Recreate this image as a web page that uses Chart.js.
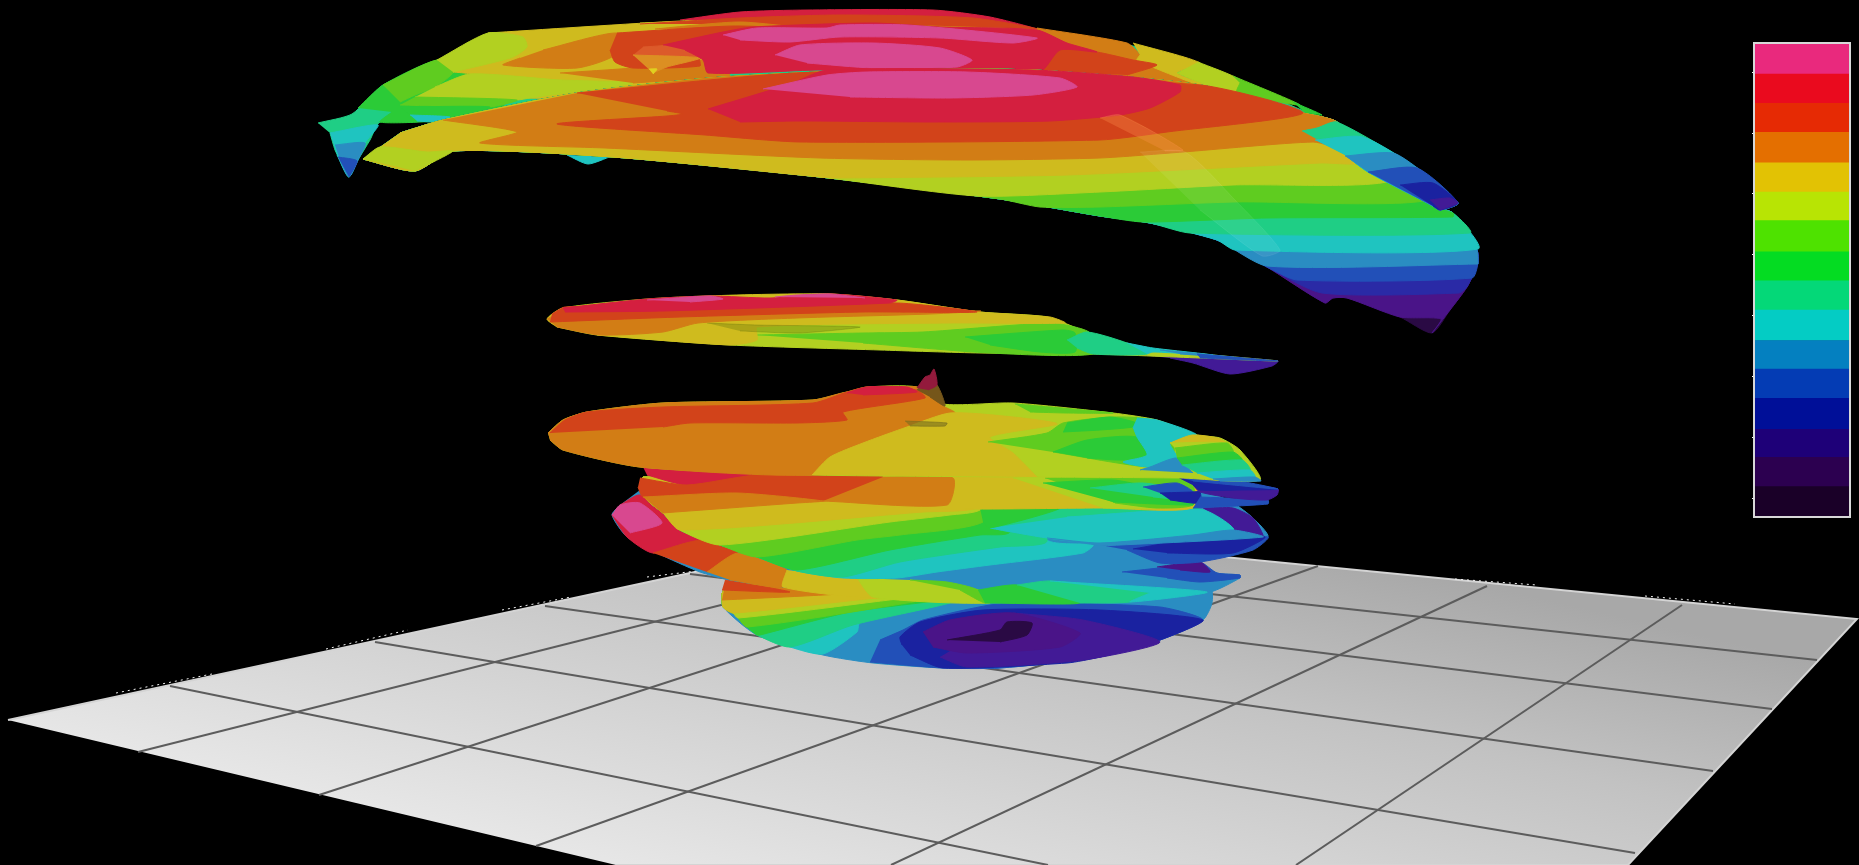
<!DOCTYPE html>
<html>
<head>
<meta charset="utf-8">
<title>Stacked contour surfaces</title>
<script src="https://cdn.jsdelivr.net/npm/chart.js@4"></script>
<style>
  html, body { margin: 0; padding: 0; background: #000; overflow: hidden; }
  #sceneChart { position: absolute; left: 0; top: 0; }
  #colorbarChart { position: absolute; left: 1746px; top: 40px; }
</style>
</head>
<body>
<canvas id="sceneChart" width="1859" height="865"></canvas>
<canvas id="colorbarChart" width="106" height="480"></canvas>
<script>
// colour scale
const colorbarEdges = [-0.31, 0.19, 0.67, 1.13, 1.64, 2.12, 2.59, 3.09, 3.57, 4.05, 4.56, 5.03, 5.51, 6.01, 6.49, 6.97, 7.48];
const colorbarTicks = [0, 1, 2, 3, 4, 5, 6, 7];
const colorbarColors = ["#1a0028", "#2c0050", "#1e0078", "#000f98", "#043cb4", "#0480c0", "#04ccc4", "#04d878", "#04dc22", "#4ee200", "#b8e404", "#e2c204", "#e46f00", "#e62a04", "#ea0a1e", "#e9297d"];

// shaded versions of the scale, as they look on the surfaces
const pink = "#d8488f", red = "#d41f3f", redOrange = "#d2431a", orange = "#d27d15", yellow = "#cfbb1e";
const yelGreen = "#b2d021", ltGreen = "#5fcc20", green = "#2bcb37", teal = "#1fce85", cyan = "#1fc4c0";
const sky = "#2a8dc2", blue = "#2250b8", navy = "#1a22a0", indigo = "#421a96", purple = "#4a1488", dark = "#2a0a44";

// floor
const floorOutline = [[8,720],[908,526],[1857,619],[1628,865],[616,865]];
const gridA1 = [[170,686],[1048,865]];
const gridA2 = [[375,642],[1635,853]];
const gridA3 = [[545,606],[1713,771]];
const gridA4 = [[690,574],[1772,709]];
const gridA5 = [[1100,582],[1817,660]];
const gridB1 = [[138,752],[860,570]];
const gridB2 = [[319,795],[1060,555]];
const gridB3 = [[536,846],[1318,566]];
const gridB4 = [[891,865],[1487,586]];
const gridB5 = [[1296,865],[1682,605]];
const speck1 = [[116,693],[212,674]];
const speck2 = [[326,649],[408,630]];
const speck3 = [[502,610],[571,597]];
const speck4 = [[647,577],[696,571]];
const speck5 = [[1455,579],[1537,585]];
const speck6 = [[1645,596],[1735,604]];

// bottom disc
const s5Lower = [[722,593],[723,607],[733,613],[738,618],[747,627],[757,635],[790,647],[823,655]];
const s5Cap = [[1000,585],[725,585]];
const s5Base = [[722,593],[723,607],[757,635],[823,655],[873,663],[943,668],[1000,668],[1100,657],[1160,640],[1203,620],[1212,603],[1210,588],[730,575]];
const s5Blue = [[870,662],[943,668],[1000,668],[1100,657],[1160,640],[1203,620],[1160,607],[1033,603],[990,605],[923,620],[903,630],[880,640]];
const s5Navy = [[902,645],[900,637],[920,622],[983,610],[1100,610],[1203,620],[1160,640],[1100,657],[1067,663],[943,668],[910,655]];
const s5Indigo = [[1013,613],[1083,620],[1160,642],[1083,660],[967,667],[940,657]];
const s5Purple = [[923,632],[950,620],[1013,613],[1080,633],[1060,647],[967,653],[933,647]];
const s5Dark = [[947,640],[1000,630],[1007,622],[1032,623],[1027,635],[1000,642]];
const s5CyanEdge = [[823,654],[857,632],[860,622],[940,600]];
const s5TealEdge = [[790,647],[853,625],[950,603]];
const s5GreenEdge = [[760,635],[850,612],[940,600]];
const s5LtGreenEdge = [[747,627],[907,603]];
const s5YelGreenEdge = [[738,618],[873,602]];
const s5YellowEdge = [[733,613],[857,600]];
const s5OrangeEdge = [[722,600],[823,595],[900,590]];
const s5RedOrange = [[725,580],[790,592],[722,590]];

// fourth layer
const s4Base = [[640,490],[1200,490],[1233,503],[1253,518],[1268,537],[1233,553],[1200,562],[1217,573],[1240,575],[1240,578],[1210,592],[1100,602],[967,602],[783,587],[730,580],[700,572],[657,553],[627,537],[612,515],[620,505]];
const s4Red = [[620,505],[640,495],[670,520],[702,540],[653,553],[627,537],[612,515]];
const s4Pink = [[612,515],[620,505],[640,503],[662,523],[630,533]];
const s4RedOrange = [[653,553],[702,540],[738,553],[707,572]];
const s4Orange = [[707,572],[738,553],[787,570],[783,587],[730,580]];
const s4Yellow = [[787,570],[783,587],[873,597],[857,578]];
const s4YelGreen = [[857,578],[873,597],[990,603],[978,590],[910,580]];
const s4LtGreen = [[910,580],[947,582],[978,590],[985,603],[960,590]];
const s4Green = [[978,590],[1017,585],[1080,603],[985,603]];
const s4Teal = [[1017,585],[1050,581],[1150,593],[1130,602],[1080,603]];
const s4Cyan = [[1050,581],[1207,592],[1130,602],[1150,593]];
const s4BlueLow = [[1122,572],[1167,567],[1200,562],[1217,573],[1240,575],[1240,578],[1200,582],[1167,578]];
const s4Patch = [[1157,567],[1200,562],[1210,572],[1180,570]];
const s4BlueUp = [[1100,545],[1193,535],[1268,537],[1253,550],[1200,562],[1160,563],[1127,550]];
const s4NavyUp = [[1133,549],[1200,538],[1265,537],[1233,553],[1167,553]];
const s4PurpleUp = [[1203,508],[1233,508],[1253,518],[1263,537],[1233,530],[1217,518]];

// third layer, lower bands
const s3Lower = [[643,477],[642,487],[647,500],[663,513],[680,530],[720,545],[757,557],[797,571],[843,578],[897,578]];
const s3Cap = [[1010,477],[643,477]];
const s3CyanEdge = [[897,578],[937,572],[990,565],[1083,553],[1093,545],[1047,540]];
const s3TealEdge = [[843,577],[900,562],[1000,547],[1047,541]];
const s3GreenEdge = [[797,570],[890,550],[980,535],[1010,532]];
const s3LtGreenEdge = [[757,557],[857,540],[900,535],[983,522]];
const s3YelGreenEdge = [[720,545],[890,522],[950,515],[980,510]];
const s3YellowEdge = [[680,530],[923,512],[977,508]];
const rightTeal = [[990,507],[1170,507],[1203,510],[1233,530],[1047,538],[990,528]];
const rightCyan = [[990,528],[1047,538],[1100,543],[1233,530],[1203,510],[1067,517]];
const rightSky = [[1047,538],[1100,543],[1193,535],[1233,530],[1263,537],[1100,546]];
const rightGreen = [[980,508],[1060,508],[990,528],[983,522]];

// third layer, upper sheet with the flat lower edge
const s3UpBase = [[797,503],[950,509],[1100,508],[1193,508],[1193,477],[883,477]];
const s3UpRed = [[643,467],[757,475],[687,485],[647,475]];
const s3UpRedOrange = [[640,478],[687,485],[757,475],[883,477],[823,501],[737,493],[643,497],[638,487]];
const s3UpOrange = [[883,477],[953,478],[947,505],[823,501]];
const s3UpOrangeLow = [[643,497],[737,493],[823,501],[797,503],[662,513]];
const s3UpYelGreen = [[1013,478],[1045,478],[1115,503],[1157,508],[1103,508]];
const s3UpLtGreen = [[1045,478],[1177,477],[1193,485],[1193,505],[1157,508],[1115,503]];
const s3UpGreen = [[1043,483],[1113,480],[1153,488],[1193,500],[1193,505],[1113,502]];
const s3UpTeal = [[1090,488],[1143,483],[1193,493],[1193,500],[1153,497]];
const s3UpBlue = [[1143,487],[1177,483],[1193,492],[1160,493]];
const s3UpNavy = [[1160,493],[1193,492],[1200,492],[1200,503],[1170,500]];
const s3UpTip = [[1200,497],[1268,500],[1268,504],[1193,508]];

// second layer with the spike
const s2Base = [[548,433],[563,420],[587,412],[663,403],[813,400],[847,392],[867,387],[917,387],[943,404],[1013,403],[1113,413],[1157,420],[1197,435],[1220,438],[1240,450],[1260,480],[1180,478],[810,475],[640,467],[563,450],[550,440]];
const s2Orange = [[548,433],[563,420],[587,412],[663,403],[813,400],[847,392],[917,387],[943,406],[955,413],[907,427],[863,443],[830,457],[812,475],[640,467],[563,450],[550,440]];
const s2Yellow = [[812,475],[830,457],[863,443],[907,427],[950,413],[1013,417],[1057,424],[990,437],[1013,453],[1037,477]];
const s2RedOrange = [[550,433],[565,420],[587,412],[663,407],[813,403],[847,392],[867,387],[917,390],[925,398],[843,412],[847,420],[797,423],[690,423],[663,427]];
const s2Red = [[847,393],[867,387],[907,387],[917,392],[863,395]];
const s2LtTop = [[1015,404],[1113,413],[1067,413],[1030,412]];
const s2LtMid = [[988,442],[1047,433],[1063,423],[1113,417],[1150,420],[1173,443],[1173,457],[1150,467],[1053,452]];
const s2GreenLow = [[1053,452],[1087,440],[1137,437],[1147,455],[1123,460],[1087,458]];
const s2GreenUp = [[1067,423],[1110,417],[1137,423],[1133,427],[1100,430],[1063,432]];
const s2Cyan = [[1137,418],[1157,420],[1197,435],[1170,443],[1177,458],[1150,467],[1123,462],[1147,455],[1137,437],[1133,427]];
const s2Sky = [[1140,470],[1150,467],[1177,458],[1193,473]];
const spikeLow = [[917,390],[925,382],[937,385],[945,406],[930,397]];
const spikeTop = [[917,388],[925,377],[930,375],[934,369],[937,385],[928,390]];
const ridge = [[905,421],[947,423],[945,426],[910,426]];
const lobeYellow = [[1170,443],[1192,435],[1218,438],[1227,443]];
const lobeYelGreen = [[1170,443],[1227,443],[1233,452],[1175,448]];
const lobeLtGreen = [[1175,448],[1227,443],[1233,452],[1177,458]];
const lobeGreen = [[1177,458],[1233,452],[1242,460],[1182,465]];
const lobeTeal = [[1182,465],[1242,460],[1250,470],[1197,473]];
const lobeCyan = [[1197,473],[1250,470],[1255,477],[1213,479]];
const lobeSky = [[1213,479],[1255,477],[1261,481],[1220,481]];
const lensPurple = [[1177,477],[1233,482],[1278,489],[1277,495],[1267,500],[1233,498],[1200,492],[1193,485]];
const lensNavy = [[1177,477],[1233,482],[1278,489],[1240,490],[1200,490],[1193,485]];
const lensBlue = [[1177,477],[1233,480],[1278,489],[1233,485],[1193,481]];

// middle sheet
const midFlap = [[1128,354],[1278,361],[1272,366],[1230,374],[1193,363],[1170,358]];
const midBase = [[547,319],[563,308],[647,299],[710,296],[770,298],[797,295],[830,294],[897,300],[980,312],[1047,317],[1087,332],[1147,348],[1213,355],[1278,361],[1200,358],[1093,354],[980,353],[880,350],[730,345],[597,335],[557,327]];
const midLtGreen = [[757,335],[863,333],[923,332],[1050,323],[1075,327],[1090,333],[1093,354],[990,353],[863,343]];
const midGreen = [[965,337],[1063,330],[1075,333],[1075,352],[1040,352],[990,345]];
const midTeal = [[1067,340],[1087,332],[1127,343],[1147,354],[1093,354],[1077,348]];
const midCyan = [[1127,343],[1153,348],[1213,355],[1153,352],[1147,354]];
const midSky = [[1160,350],[1213,355],[1240,358],[1180,354]];
const midBlue = [[1197,354],[1278,361],[1200,358]];
const midYellow = [[557,327],[547,319],[563,308],[710,296],[830,294],[897,300],[980,312],[1050,317],[1065,323],[950,323],[757,327],[757,340],[730,345],[597,335]];
const midShade = [[707,323],[757,325],[860,327],[800,333],[740,331]];
const midOrange = [[547,319],[563,312],[680,310],[980,311],[930,314],[797,318],[698,323],[663,332],[600,335],[557,327]];
const midRedOrange = [[550,322],[680,317],[863,312],[977,312],[897,303],[663,306],[565,307],[552,314]];
const midRed = [[563,308],[647,299],[710,296],[770,298],[830,294],[897,300],[890,303],[663,311],[565,312]];
const midPink1 = [[647,300],[710,296],[723,299],[690,302]];
const midPink2 = [[775,297],[797,295],[830,294],[865,298]];

// top sheet, back half
const backBase = [[318,123],[352,114],[383,85],[437,62],[495,40],[677,27],[740,18],[807,14],[933,14],[990,20],[1040,32],[1133,46],[1233,80],[1320,118],[1337,122],[1200,150],[800,140],[460,120],[410,122],[380,122],[370,140],[358,160],[349,177],[340,160],[335,150],[330,133]];
const backCyan = [[330,133],[378,125],[365,143],[349,177],[337,155]];
const backSky = [[335,145],[365,143],[358,160],[349,177],[340,160]];
const backBlue = [[338,157],[357,161],[349,177]];
const backGreen = [[358,108],[383,85],[437,60],[500,60],[500,115],[420,122],[380,122],[392,112]];
const backLtGreen = [[383,85],[437,60],[453,72],[435,87],[415,95],[400,102]];
const backYellow = [[488,33],[680,21],[780,18],[780,40],[650,85],[530,98],[470,74],[453,72]];
const backYelGreenUp = [[437,60],[488,33],[523,37],[527,47],[513,57],[483,65],[453,72]];
const backYelGreenIn = [[435,87],[470,74],[560,80],[633,83],[530,98],[517,100],[415,97]];
const backLtGreenIn = [[415,97],[517,100],[490,107],[400,105]];
const backGreenIn = [[400,107],[490,107],[450,118],[410,115]];
const backCyanIn = [[410,115],[450,117],[440,122],[417,121]];
const backOrange = [[543,50],[617,33],[615,55],[577,68],[503,65],[520,58]];
const backOrangeLow = [[560,73],[633,68],[715,60],[730,76],[710,78],[633,83]];
const backStrip = [[640,23],[740,20],[657,28]];
const backRim = [[680,20],[740,12],[807,10],[933,10],[990,17],[1040,30],[973,20],[840,17],[740,20]];
const backRimOrange = [[640,24],[740,18],[840,15],[973,18],[1040,30],[873,24],[830,29],[740,24]];
const backRimGold = [[655,29],[740,22],[830,30],[873,25],[1037,30],[840,33],[720,30]];
const backRedOrange = [[617,33],[733,26],[790,30],[740,50],[700,58],[700,66],[633,68],[615,62],[610,50]];
const backRedOrangeLit = [[643,47],[733,42],[700,58],[633,55]];
const backCone = [[633,55],[700,58],[667,67],[653,73]];
const backConeTip = [[649,69],[657,69],[653,74]];
const backRedCore = [[663,45],[723,32],[753,27],[873,23],[940,27],[1037,30],[1067,43],[1097,52],[1060,50],[1040,72],[960,72],[820,70],[708,73],[703,60],[685,50]];
const backPink1 = [[723,35],[757,28],[827,28],[840,25],[907,25],[1037,38],[1013,43],[940,38],[840,37],[790,42],[740,40]];
const backPink2 = [[775,55],[800,45],[873,43],[940,48],[972,60],[957,67],[873,68],[807,63]];
const backRightOrange = [[1037,28],[1127,43],[1140,55],[1137,60],[1157,65],[1193,83],[1133,77],[1040,72]];
const backRightRedOrange = [[1040,72],[1060,48],[1097,52],[1133,60],[1157,65],[1127,75]];
const backRightYellow = [[1133,43],[1200,63],[1177,73],[1207,85],[1193,83],[1137,60],[1140,55]];
const backRightYelGreen = [[1198,62],[1240,80],[1237,92],[1207,85],[1177,73]];
const backRightLtGreen = [[1233,76],[1300,105],[1237,92],[1240,83]];
const backRightGreen = [[1293,102],[1322,115],[1305,113]];
const backCyanBlob = [[567,155],[588,164],[612,156]];

// top sheet, front half
const frontLower = [[363,159],[415,171],[453,151],[613,157],[820,177],[1000,199],[1100,216],[1150,223],[1217,240],[1267,267],[1325,303],[1333,298],[1347,298],[1400,317]];
const frontRight = [[1432,333],[1450,310],[1467,287],[1478,263],[1477,250],[1453,213],[1433,207]];
const frontTop = [[1433,207],[1337,122],[1303,113],[1200,85],[1033,70],[880,70],[820,72],[710,78],[577,93],[443,120],[400,133]];
const frontPurpleEdge = [[1400,317],[1441,319]];
const frontIndigoEdge = [[1322,293],[1459,293]];
const frontBlueEdge = [[1297,280],[1472,278]];
const frontSkyEdge = [[1267,266],[1478,264]];
const frontCyanEdge = [[1235,250],[1478,249]];
const frontTealEdge = [[1190,233],[1470,233]];
const frontGreenEdge = [[1143,222],[1267,218],[1453,217]];
const frontLtGreenEdge = [[1040,207],[1100,207],[1233,202],[1433,198]];
const frontYelGreenEdge = [[977,196],[1100,192],[1233,185],[1392,180]];
const frontYellowEdge = [[833,178],[1067,175],[1320,163],[1365,162]];
const frontOrange = [[443,120],[517,132],[480,143],[605,148],[820,158],[967,160],[1100,158],[1183,152],[1313,142],[1345,148],[1337,122],[1303,113],[1200,85],[1033,70],[880,70],[820,72],[710,78],[577,93]];
const frontRedOrange = [[577,93],[820,72],[1200,85],[1303,113],[1167,132],[1100,140],[800,142],[705,135],[557,124],[667,116],[683,114],[667,111]];
const frontRed = [[708,109],[790,84],[827,70],[1033,70],[1133,77],[1180,85],[1180,92],[1150,108],[1120,115],[1050,121],[933,122],[800,121],[740,122]];
const frontPink = [[763,89],[827,75],[867,72],[967,72],[1060,78],[1077,87],[1033,95],[950,98],[850,97]];
const frontTip = [[363,159],[380,147],[427,152],[453,151],[415,171]];
const streakWarm = [[1100,118],[1120,115],[1183,150],[1165,151]];
const streakPale = [[1140,152],[1185,152],[1235,200],[1280,250],[1262,256],[1200,210]];

// back half, right prong that passes over the front half
const prongTeal = [[1302,131],[1317,128],[1337,122],[1420,170],[1458,203],[1440,210],[1433,206],[1368,172],[1345,155]];
const prongCyan = [[1315,140],[1363,137],[1420,170],[1458,203],[1440,210],[1433,206],[1368,172],[1345,155]];
const prongSky = [[1345,156],[1393,153],[1420,170],[1458,203],[1440,210],[1433,206],[1368,172]];
const prongBlue = [[1368,172],[1417,168],[1458,203],[1440,210],[1433,206]];
const prongNavy = [[1400,185],[1433,183],[1458,203],[1440,210],[1433,206]];
const prongIndigo = [[1430,200],[1450,198],[1458,203],[1440,210]];

// paint order, back to front
const surfaceLayers = [
  [s5Base, sky], [s5Blue, blue], [s5Navy, navy], [s5Indigo, indigo], [s5Purple, purple], [s5Dark, dark],
  [bandShape(s5Lower, s5CyanEdge, s5Cap), cyan], [bandShape(s5Lower, s5TealEdge, s5Cap), teal],
  [bandShape(s5Lower, s5GreenEdge, s5Cap), green], [bandShape(s5Lower, s5LtGreenEdge, s5Cap), ltGreen],
  [bandShape(s5Lower, s5YelGreenEdge, s5Cap), yelGreen], [bandShape(s5Lower, s5YellowEdge, s5Cap), yellow],
  [bandShape(s5Lower, s5OrangeEdge, s5Cap), orange], [s5RedOrange, redOrange],

  [s4Base, sky], [s4Red, red], [s4Pink, pink], [s4RedOrange, redOrange], [s4Orange, orange], [s4Yellow, yellow],
  [s4YelGreen, yelGreen], [s4LtGreen, ltGreen], [s4Green, green], [s4Teal, teal], [s4Cyan, cyan],
  [s4BlueLow, blue], [s4Patch, purple], [s4BlueUp, blue], [s4NavyUp, navy], [s4PurpleUp, indigo],

  [bandShape(s3Lower, s3CyanEdge, s3Cap), cyan], [bandShape(s3Lower, s3TealEdge, s3Cap), teal],
  [bandShape(s3Lower, s3GreenEdge, s3Cap), green], [bandShape(s3Lower, s3LtGreenEdge, s3Cap), ltGreen],
  [bandShape(s3Lower, s3YelGreenEdge, s3Cap), yelGreen], [bandShape(s3Lower, s3YellowEdge, s3Cap), yellow],
  [rightTeal, teal], [rightCyan, cyan], [rightSky, sky], [rightGreen, green],

  [s3UpRed, red], [s3UpBase, yellow], [s3UpRedOrange, redOrange], [s3UpOrange, orange], [s3UpOrangeLow, orange],
  [s3UpYelGreen, yelGreen], [s3UpLtGreen, ltGreen], [s3UpGreen, green], [s3UpTeal, teal], [s3UpBlue, blue],
  [s3UpNavy, navy], [s3UpTip, blue],

  [lensPurple, indigo], [lensNavy, navy], [lensBlue, blue],
  [s2Base, yelGreen], [s2Orange, orange], [s2Yellow, yellow], [s2RedOrange, redOrange], [s2Red, red],
  [s2LtTop, ltGreen], [s2LtMid, ltGreen], [s2GreenLow, green], [s2GreenUp, green], [s2Cyan, cyan], [s2Sky, sky],
  [lobeYellow, yellow], [lobeYelGreen, yelGreen], [lobeLtGreen, ltGreen], [lobeGreen, green], [lobeTeal, teal],
  [lobeCyan, cyan], [lobeSky, sky],
  [spikeLow, "#75561a"], [spikeTop, "#931a3c"], [ridge, "rgba(120,110,30,0.6)"],

  [midFlap, indigo], [midBase, yelGreen], [midLtGreen, ltGreen], [midGreen, green], [midTeal, teal], [midCyan, cyan],
  [midSky, sky], [midBlue, blue], [midYellow, yellow], [midShade, "rgba(90,110,10,0.3)"], [midOrange, orange],
  [midRedOrange, redOrange], [midRed, red], [midPink1, pink], [midPink2, pink],

  [backCyanBlob, cyan], [backBase, teal], [backCyan, cyan], [backSky, sky], [backBlue, blue], [backGreen, green],
  [backLtGreen, ltGreen], [backYellow, yellow], [backYelGreenUp, yelGreen], [backYelGreenIn, yelGreen],
  [backLtGreenIn, ltGreen], [backGreenIn, green], [backCyanIn, cyan], [backOrange, orange], [backOrangeLow, orange],
  [backStrip, yellow], [backRim, red], [backRimOrange, redOrange], [backRimGold, orange],
  [backRightOrange, orange], [backRightYellow, yellow], [backRightYelGreen, yelGreen], [backRightLtGreen, ltGreen],
  [backRightGreen, green], [backRightRedOrange, redOrange], [backRedOrange, redOrange], [backRedOrangeLit, "#dc5a2a"],
  [backCone, "#dc8f22"], [backConeTip, "#e0d020"], [backRedCore, red], [backPink1, pink], [backPink2, pink],

  [frontOutlineShape(), dark],
  [bandShape(frontLower, frontPurpleEdge, frontRight.concat(frontTop)), purple],
  [frontBand(frontIndigoEdge), "#2a2aa6"], [frontBand(frontBlueEdge), blue], [frontBand(frontSkyEdge), sky],
  [frontBand(frontCyanEdge), cyan], [frontBand(frontTealEdge), teal], [frontBand(frontGreenEdge), green],
  [frontBand(frontLtGreenEdge), ltGreen], [frontBand(frontYelGreenEdge), yelGreen], [frontBand(frontYellowEdge), yellow],
  [frontOrange, orange], [frontRedOrange, redOrange], [frontRed, red], [frontPink, pink], [frontTip, yelGreen],
  [streakWarm, "rgba(255,150,80,0.3)"], [streakPale, "rgba(255,255,255,0.07)"],

  [prongTeal, teal], [prongCyan, cyan], [prongSky, sky], [prongBlue, blue], [prongNavy, navy], [prongIndigo, indigo]
];

// region between a band edge and the sheet's top: walks the lower rim up to the edge, then back over the top
function bandShape(lower, edge, cap) {
  const startX = edge[0][0];
  const endY = edge[edge.length - 1][1];
  return lower.filter(function (p) { return p[0] < startX; })
    .concat(edge)
    .concat(cap.filter(function (p) { return p[0] < edge[edge.length - 1][0] || p[1] < endY; }));
}

function frontBand(edge) {
  const side = frontRight.filter(function (p) { return p[1] < edge[edge.length - 1][1]; });
  return bandShape(frontLower, edge, side.concat(frontTop));
}

function frontOutlineShape() {
  return frontLower.concat(frontRight, frontTop);
}

function toPoints(list) {
  return list.map(function (p) { return { x: p[0], y: p[1] }; });
}

const sceneCanvas = document.getElementById("sceneChart");
const floorFill = sceneCanvas.getContext("2d").createLinearGradient(113, 267, 8, 720);
floorFill.addColorStop(0, "#a8a8a8");
floorFill.addColorStop(0.35, "#c2c2c2");
floorFill.addColorStop(1, "#e6e6e6");

const datasets = [];
datasets.push({ data: toPoints(floorOutline), fill: "shape", backgroundColor: floorFill, borderColor: "#d4d4d4", borderWidth: 2, tension: 0 });
[speck1, speck2, speck3, speck4, speck5, speck6].forEach(function (line) {
  datasets.push({ data: toPoints(line), fill: false, borderColor: "#f2f2f2", borderWidth: 1, borderDash: [2, 4], tension: 0 });
});
[gridA1, gridA2, gridA3, gridA4, gridA5, gridB1, gridB2, gridB3, gridB4, gridB5].forEach(function (line) {
  datasets.push({ data: toPoints(line), fill: false, borderColor: "#5c5c5c", borderWidth: 2, tension: 0 });
});
surfaceLayers.forEach(function (layer) {
  datasets.push({ data: toPoints(layer[0]), fill: "shape", backgroundColor: layer[1], borderColor: layer[1], borderWidth: 1, tension: 0.22 });
});
datasets.forEach(function (set, index) {
  set.showLine = true;
  set.pointRadius = 0;
  set.order = datasets.length - index;
});

new Chart(sceneCanvas, {
  type: "scatter",
  data: { datasets: datasets },
  options: {
    responsive: false,
    animation: false,
    events: [],
    layout: { padding: 0 },
    plugins: {
      legend: { display: false },
      tooltip: { enabled: false },
      filler: { drawTime: "beforeDatasetDraw" }
    },
    scales: {
      x: { type: "linear", min: 0, max: 1859, display: false },
      y: { type: "linear", min: 0, max: 865, reverse: true, display: false }
    }
  }
});

const colorbarFrame = {
  id: "colorbarFrame",
  afterDraw: function (chart) {
    const area = chart.chartArea;
    chart.ctx.save();
    chart.ctx.strokeStyle = "#d8d8d8";
    chart.ctx.lineWidth = 2;
    chart.ctx.strokeRect(area.left, area.top, area.right - area.left, area.bottom - area.top);
    chart.ctx.restore();
  }
};

new Chart(document.getElementById("colorbarChart"), {
  type: "bar",
  data: {
    labels: ["level"],
    datasets: colorbarColors.map(function (color, i) {
      return {
        data: [[colorbarEdges[i], colorbarEdges[i + 1]]],
        backgroundColor: color,
        borderWidth: 0,
        barPercentage: 1,
        categoryPercentage: 1,
        grouped: false
      };
    })
  },
  options: {
    responsive: false,
    animation: false,
    events: [],
    layout: { padding: { top: 3, bottom: 3, right: 2 } },
    plugins: { legend: { display: false }, tooltip: { enabled: false } },
    scales: {
      x: { display: false },
      y: {
        min: colorbarEdges[0],
        max: colorbarEdges[colorbarEdges.length - 1],
        afterBuildTicks: function (scale) {
          scale.ticks = colorbarTicks.map(function (v) { return { value: v }; });
        },
        afterFit: function (scale) { scale.width = 8; },
        ticks: { display: false },
        border: { display: false },
        grid: { drawOnChartArea: false, tickLength: 2, tickColor: "#ffffff", tickWidth: 1 }
      }
    }
  },
  plugins: [colorbarFrame]
});
</script>
</body>
</html>
